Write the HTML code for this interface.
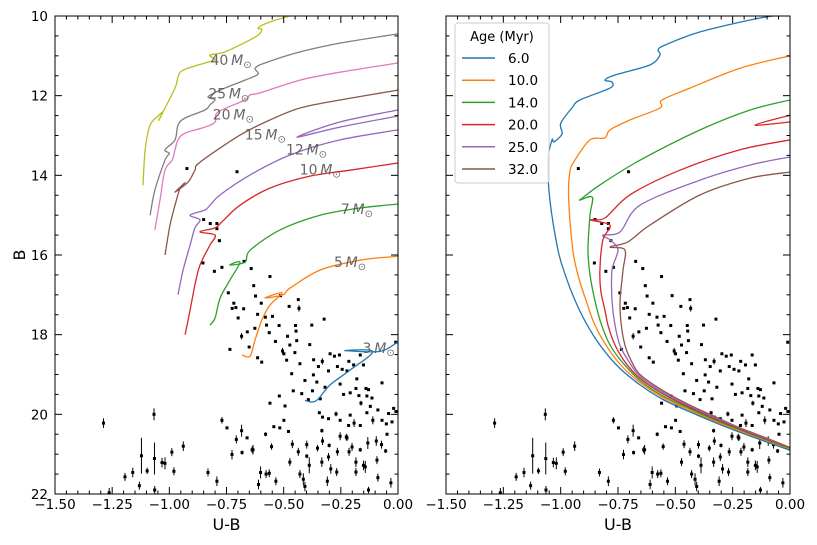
<!DOCTYPE html>
<html><head><meta charset="utf-8"><style>
html,body{margin:0;padding:0;background:#fff;}
svg{display:block;font-family:"DejaVu Sans","Liberation Sans",sans-serif;}
</style></head><body>
<svg id="fig" width="817" height="545" viewBox="0 0 817 545" xmlns="http://www.w3.org/2000/svg"></svg>
<script>
// ---- data ----
const xTicks=[-1.5,-1.25,-1.0,-0.75,-0.5,-0.25,0.0];
const xTickLabels=["\u22121.50","\u22121.25","\u22121.00","\u22120.75","\u22120.50","\u22120.25","0.00"];
const yTicks=[10,12,14,16,18,20,22];
const yTickLabels=["10","12","14","16","18","20","22"];
const starU=[-0.923,-0.704,-0.850,-0.821,-0.792,-0.792,-0.781,-0.853,-0.803,-0.770,-0.673,-0.642,-0.631,-0.560,-0.623,-0.742,-0.718,-0.725,-0.709,-0.675,-0.699,-0.598,-0.614,-0.580,-0.549,-0.575,-0.626,-0.659,-0.684,-0.563,-0.520,-0.514,-0.476,-0.436,-0.433,-0.448,-0.446,-0.483,-0.473,-0.536,-0.505,-0.499,-0.443,-0.377,-0.323,-0.386,-0.451,-0.429,-0.487,-0.614,-0.596,-0.651,-0.735,-0.369,-0.331,-0.348,-0.297,-0.256,-0.265,-0.304,-0.244,-0.223,-0.180,-0.165,-0.194,-0.151,-0.370,-0.355,-0.407,-0.465,-0.458,-0.421,-0.374,-0.392,-0.340,-0.319,-0.253,-0.238,-0.209,-0.184,-0.171,-0.140,-0.129,-0.114,-0.070,-0.162,-0.136,-0.121,-0.088,-0.041,-0.019,-0.009,-0.010,-0.278,-0.215,-0.519,-0.494,-0.560,-0.499,-0.543,-0.517,-0.479,-0.344,-0.330,-0.304,-0.271,-0.253,-0.209,-0.216,-0.192,-0.165,-0.136,-0.110,-0.070,-0.051,-0.026,-0.048,-0.770,-0.748,-0.707,-0.684,-0.660,-0.682,-0.726,-0.638,-0.579,-0.553,-0.462,-0.436,-0.399,-0.399,-0.352,-0.333,-0.330,-0.301,-0.333,-0.304,-0.265,-0.253,-0.223,-0.201,-0.165,-0.184,-0.151,-0.132,-0.095,-0.072,-0.054,-0.092,-0.226,-0.214,-0.473,-0.429,-0.388,-0.294,-0.268,-0.184,-0.143,-0.088,-0.031,-0.129,-0.309,-0.414,-0.407,-0.534,-0.563,-0.601,-0.577,-0.610,-0.792,-0.831,-0.634,-1.288,-1.067,-0.939,-0.989,-1.032,-1.019,-1.065,-1.122,-0.980,-1.097,-1.160,-1.194,-1.131,-1.064,-1.263];
const starB=[13.83,13.91,15.11,15.21,15.21,15.34,15.64,16.20,16.41,16.31,16.16,16.34,16.77,16.54,17.03,16.95,17.21,17.34,17.32,17.35,17.58,17.21,17.49,17.56,17.54,17.76,17.84,17.93,18.04,17.95,17.77,17.02,17.29,17.12,17.34,17.77,17.91,18.04,18.26,18.17,18.41,18.48,18.15,17.76,17.61,18.25,18.45,18.73,18.64,18.58,18.69,18.31,18.37,18.63,18.67,18.80,18.48,18.51,18.80,18.91,18.87,18.91,19.11,18.51,18.76,18.76,19.01,19.19,19.15,18.98,19.41,19.48,19.41,19.63,19.61,19.32,19.24,19.50,19.46,19.35,19.53,19.35,19.38,19.59,19.21,19.72,19.54,19.80,19.89,19.98,19.85,19.93,18.19,18.54,18.67,19.54,19.79,19.72,20.15,20.31,20.34,20.43,19.96,20.07,20.11,19.99,20.15,20.02,20.28,20.22,20.28,19.96,20.15,20.15,20.24,20.19,20.50,20.15,20.34,20.63,20.41,20.59,20.96,21.01,20.89,20.50,20.81,20.75,20.94,21.05,20.76,20.85,20.41,20.67,20.78,21.20,21.07,20.94,20.55,20.59,20.82,20.89,21.20,21.28,20.72,20.67,20.76,20.92,21.15,20.57,20.94,21.20,21.50,21.28,21.37,21.45,21.45,21.32,21.59,21.72,21.90,21.68,21.63,21.81,21.68,21.48,21.46,21.50,21.76,21.68,21.46,20.89,20.22,20.00,20.80,20.95,21.21,21.23,21.11,21.04,21.43,21.42,21.46,21.57,21.79,21.90,21.97];
const starErr=[0.02,0.02,0.02,0.02,0.02,0.02,0.02,0.02,0.02,0.02,0.03,0.02,0.02,0.02,0.02,0.02,0.02,0.02,0.02,0.02,0.02,0.02,0.02,0.02,0.02,0.03,0.02,0.02,0.08,0.02,0.02,0.02,0.02,0.02,0.08,0.02,0.02,0.02,0.02,0.02,0.08,0.03,0.02,0.02,0.02,0.02,0.02,0.02,0.02,0.02,0.02,0.02,0.02,0.02,0.08,0.02,0.02,0.02,0.02,0.02,0.03,0.02,0.02,0.02,0.02,0.02,0.02,0.03,0.02,0.02,0.02,0.02,0.02,0.03,0.02,0.02,0.03,0.02,0.03,0.03,0.03,0.03,0.02,0.03,0.03,0.06,0.03,0.03,0.03,0.03,0.03,0.03,0.03,0.03,0.03,0.03,0.03,0.03,0.03,0.03,0.03,0.03,0.03,0.03,0.03,0.06,0.03,0.03,0.03,0.1,0.03,0.03,0.1,0.03,0.03,0.03,0.03,0.08,0.03,0.1,0.15,0.03,0.05,0.12,0.08,0.05,0.08,0.1,0.1,0.05,0.1,0.08,0.05,0.1,0.05,0.12,0.1,0.1,0.1,0.08,0.1,0.05,0.12,0.12,0.15,0.12,0.1,0.05,0.1,0.08,0.1,0.1,0.1,0.2,0.12,0.1,0.1,0.15,0.1,0.12,0.08,0.12,0.15,0.12,0.1,0.1,0.15,0.1,0.12,0.12,0.1,0.12,0.12,0.15,0.12,0.1,0.12,0.15,0.4,0.45,0.1,0.08,0.12,0.1,0.1,0.1,0.12,0.12,0.12,0.12,0.12,0.12,0.12];

const massNames=["40","25","20","15","12","10","7","5","3"];
const massColors=["#bcbd22","#7f7f7f","#e377c2","#8c564b","#9467bd","#d62728","#2ca02c","#ff7f0e","#1f77b4"];
const track40U=[-1.115,-1.106,-1.084,-1.049,-1.028,-1.045,-0.975,-0.962,-0.940,-0.844,-0.800,-0.822,-0.756,-0.625,-0.595,-0.612,-0.560,-0.428];
const track40B=[14.25,13.37,12.74,12.51,12.41,12.6,11.81,11.53,11.36,11.18,11.10,10.98,10.90,10.53,10.35,10.30,10.15,9.92];
const track25U=[-1.084,-1.063,-1.019,-1.0,-1.019,-0.975,-0.962,-0.931,-0.844,-0.822,-0.800,-0.831,-0.778,-0.669,-0.612,-0.625,-0.582,-0.428,-0.254,0];
const track25B=[15.0,14.37,13.62,13.45,13.36,13.11,12.74,12.56,12.36,12.23,12.10,12.03,11.86,11.61,11.46,11.31,11.18,10.90,10.68,10.45];
const track20U=[-1.063,-1.041,-1.019,-0.988,-0.975,-0.962,-0.931,-0.844,-0.800,-0.787,-0.669,-0.647,-0.603,-0.428,-0.254,0];
const track20B=[15.37,14.62,13.87,13.62,13.36,13.11,12.94,12.79,12.66,12.41,12.11,11.98,11.93,11.61,11.41,11.18];
const track15U=[-1.019,-0.997,-0.975,-0.953,-0.931,-0.975,-0.918,-0.888,-0.866,-0.691,-0.560,-0.428,-0.254,0];
const track15B=[16.0,15.25,14.75,14.32,14.19,14.42,14.17,13.87,13.67,12.99,12.61,12.31,12.11,11.86];
const track12U=[-0.962,-0.940,-0.909,-0.888,-0.866,-0.909,-0.844,-0.822,-0.778,-0.647,-0.472,-0.254,0];
const track12B=[17.0,16.38,15.75,15.32,15.12,15.0,14.87,14.75,14.49,13.99,13.49,13.11,12.86];
const loop12U=[0,-0.254,-0.442,-0.254,0];
const loop12B=[12.36,12.66,13.04,12.79,12.51];
const track10U=[-0.931,-0.909,-0.888,-0.866,-0.822,-0.800,-0.866,-0.800,-0.770,-0.691,-0.560,-0.385,-0.210,0];
const track10B=[18.0,17.38,16.75,16.25,15.75,15.50,15.42,15.32,15.17,14.75,14.32,14.02,13.87,13.69];
const track7U=[-0.822,-0.800,-0.778,-0.735,-0.691,-0.735,-0.669,-0.647,-0.516,-0.341,-0.166,0];
const track7B=[17.76,17.58,17.08,16.63,16.18,16.25,16.18,15.88,15.37,15.0,14.82,14.72];
const track5U=[-0.682,-0.647,-0.625,-0.595,-0.560,-0.507,-0.582,-0.503,-0.472,-0.341,-0.166,0];
const track5B=[18.51,18.54,18.13,17.63,17.26,16.95,17.08,17.0,16.83,16.38,16.13,16.03];
const track3U=[-0.407,-0.376,-0.350,-0.297,-0.210,-0.110,-0.232,-0.079,0];
const track3B=[19.65,19.69,19.62,19.26,18.89,18.42,18.40,18.42,18.18];
const massLabelU=[-0.82,-0.83,-0.81,-0.67,-0.49,-0.43,-0.25,-0.28,-0.155];
const massLabelB=[11.1,11.95,12.47,12.98,13.35,13.85,14.85,16.18,18.34];

const ages=["6.0","10.0","14.0","20.0","25.0","32.0"];
const ageColors=["#1f77b4","#ff7f0e","#2ca02c","#d62728","#9467bd","#8c564b"];
const iso6U=[0,-0.1,-0.218,-0.33,-0.436,-0.55,-0.654,-0.75,-0.829,-0.89,-0.938,-0.98,-1.012,-1.047,-1.055,-1.038,-1.029,-0.994,-1.0,-0.951,-0.916,-0.785,-0.776,-0.807,-0.763,-0.611,-0.567,-0.575,-0.545,-0.392,-0.131,0];
const iso6B=[20.9,20.7,20.45,20.2,19.94,19.64,19.26,18.8,18.26,17.7,17.13,16.5,15.87,14.62,13.62,13.11,13.16,12.96,12.7,12.31,12.11,11.81,11.66,11.61,11.48,11.23,10.98,10.85,10.73,10.40,10.05,9.96];
const iso10U=[0,-0.1,-0.218,-0.33,-0.436,-0.55,-0.654,-0.74,-0.805,-0.855,-0.890,-0.925,-0.947,-0.965,-0.960,-0.938,-0.872,-0.807,-0.785,-0.698,-0.567,-0.558,-0.436,-0.218,0];
const iso10B=[20.88,20.68,20.42,20.17,19.9,19.59,19.2,18.75,18.24,17.7,17.13,16.5,15.87,14.62,13.92,13.62,13.11,13.06,12.86,12.61,12.31,12.11,11.81,11.31,11.0];
const iso14U=[0,-0.1,-0.218,-0.33,-0.436,-0.55,-0.654,-0.73,-0.785,-0.825,-0.851,-0.872,-0.881,-0.872,-0.862,-0.916,-0.905,-0.829,-0.654,-0.392,-0.174,0];
const iso14B=[20.86,20.66,20.40,20.14,19.86,19.55,19.15,18.7,18.26,17.7,17.13,16.5,15.87,15.0,14.55,14.62,14.57,14.24,13.62,12.86,12.36,12.11];
const iso20U=[0,-0.1,-0.218,-0.33,-0.436,-0.55,-0.654,-0.72,-0.763,-0.792,-0.807,-0.825,-0.829,-0.816,-0.785,-0.872,-0.807,-0.698,-0.480,-0.218,0];
const iso20B=[20.85,20.64,20.38,20.11,19.83,19.5,19.1,18.68,18.26,17.8,17.38,16.9,16.38,15.62,15.25,15.12,15.07,14.49,13.87,13.36,13.11];
const loop20U=[0,-0.153,0];
const loop20B=[12.49,12.74,12.66];
const iso25U=[0,-0.1,-0.218,-0.33,-0.436,-0.55,-0.654,-0.705,-0.742,-0.765,-0.776,-0.776,-0.750,-0.785,-0.816,-0.741,-0.654,-0.392,-0.174,0];
const iso25B=[20.84,20.62,20.36,20.08,19.8,19.46,19.05,18.65,18.26,17.7,17.13,16.38,15.87,15.62,15.50,15.42,14.75,14.12,13.74,13.54];
const iso32U=[0,-0.1,-0.218,-0.33,-0.436,-0.55,-0.654,-0.695,-0.720,-0.737,-0.741,-0.728,-0.720,-0.785,-0.707,-0.611,-0.392,-0.174,0];
const iso32B=[20.83,20.6,20.34,20.05,19.77,19.42,19.0,18.62,18.26,17.7,17.13,16.38,15.87,15.80,15.67,15.25,14.49,14.07,13.92];

// ---- drawing ----
const NS="http://www.w3.org/2000/svg";
const svg=document.getElementById('fig');
const Y0=16,Y1=494;
function yS(b){return Y0+(b-10)/12*(Y1-Y0);}
function mk(tag,attrs,parent){const e=document.createElementNS(NS,tag);for(const k in attrs)e.setAttribute(k,attrs[k]);(parent||svg).appendChild(e);return e;}
function smoothPath(P){
  if(P.length<3){return P.map((p,i)=>(i?'L':'M')+p[0].toFixed(1)+','+p[1].toFixed(1)).join('');}
  let d='M'+P[0][0].toFixed(1)+','+P[0][1].toFixed(1);
  const t=0.16;
  for(let i=0;i<P.length-1;i++){
    const p0=P[Math.max(0,i-1)],p1=P[i],p2=P[i+1],p3=P[Math.min(P.length-1,i+2)];
    const c1=[p1[0]+(p2[0]-p0[0])*t,p1[1]+(p2[1]-p0[1])*t];
    const c2=[p2[0]-(p3[0]-p1[0])*t,p2[1]-(p3[1]-p1[1])*t];
    d+='C'+c1[0].toFixed(1)+','+c1[1].toFixed(1)+' '+c2[0].toFixed(1)+','+c2[1].toFixed(1)+' '+p2[0].toFixed(1)+','+p2[1].toFixed(1);
  }
  return d;
}
function panel(idx,X0,X1){
  const xS=u=>X1+(u)/1.5*(X1-X0);
  const g=mk('g',{});
  
  
  const cid='clip'+idx;
  const cp=mk('clipPath',{id:cid},g);mk('rect',{x:X0,y:Y0,width:X1-X0,height:Y1-Y0},cp);
  const plot=mk('g',{'clip-path':'url(#'+cid+')'},g);
  const sg=mk('g',{},plot);
  
  
  for(let i=0;i<starU.length;i++){
    const x=xS(starU[i]),y=yS(starB[i]),e=starErr[i];
    if(e>0.03){const l=mk('line',{x1:x,x2:x,y1:yS(starB[i]-e),y2:yS(starB[i]+e),stroke:'#000','stroke-width':1},sg);
      
      }
    const c=mk('rect',{x:x-1.5,y:y-1.5,width:3,height:3,fill:'#000'},sg);
    
    
  }
  const line=(U,B,col,name)=>{const P=U.map((u,i)=>[xS(u),yS(B[i])]);
    const p=mk('path',{d:smoothPath(P),fill:'none',stroke:col,'stroke-width':1.3,'stroke-linejoin':'round'},plot);
    
    };
  if(idx===0){
    const TU=[track40U,track25U,track20U,track15U,track12U,track10U,track7U,track5U,track3U];
    const TB=[track40B,track25B,track20B,track15B,track12B,track10B,track7B,track5B,track3B];
    for(let i=0;i<TU.length;i++)line(TU[i],TB[i],massColors[i],'track-'+massNames[i]+'msun');
    line(loop12U,loop12B,massColors[4],'track-12msun-loop');
    for(let i=0;i<massNames.length;i++){
      const t=mk('text',{x:xS(massLabelU[i]),y:yS(massLabelB[i])+5,'font-size':14,fill:'#555','fill-opacity':0.9},g);
      
      
      t.innerHTML=massNames[i]+'<tspan font-style="italic">\u2009M</tspan><tspan font-size="10" dy="3">\u2299</tspan>';
    }
  } else {
    const IU=[iso6U,iso10U,iso14U,iso20U,iso25U,iso32U],IB=[iso6B,iso10B,iso14B,iso20B,iso25B,iso32B];
    for(let i=IU.length-1;i>=0;i--)line(IU[i],IB[i],ageColors[i],'isochrone-'+ages[i]);
    line(loop20U,loop20B,ageColors[3],'isochrone-20.0-loop');
  }
  const fr=mk('rect',{x:X0,y:Y0,width:X1-X0,height:Y1-Y0,fill:'none',stroke:'#000','stroke-width':1},g);
  
  
  for(let v=-1.5;v<=0.0001;v+=0.05){const x=xS(v),maj=Math.abs(v*4-Math.round(v*4))<1e-6,L=maj?7:3.5;
    mk('line',{x1:x,x2:x,y1:Y1,y2:Y1-L,stroke:'#000'},g);mk('line',{x1:x,x2:x,y1:Y0,y2:Y0+L,stroke:'#000'},g);}
  for(let b=10;b<=22.001;b+=0.5){const y=yS(b),maj=Math.abs(b/2-Math.round(b/2))<1e-6,L=maj?7:3.5;
    mk('line',{x1:X0,x2:X0+L,y1:y,y2:y,stroke:'#000'},g);mk('line',{x1:X1,x2:X1-L,y1:y,y2:y,stroke:'#000'},g);}
  for(let i=0;i<xTicks.length;i++){const t=mk('text',{x:xS(xTicks[i]),y:Y1+15,'font-size':13.5,'text-anchor':'middle'},g);
    
    
    t.textContent=xTickLabels[i];}
  if(idx===0){for(let i=0;i<yTicks.length;i++){const t=mk('text',{x:X0-7,y:yS(yTicks[i])+5,'font-size':13.5,'text-anchor':'end'},g);
    
    
    t.textContent=yTickLabels[i];}
    const yl=mk('text',{x:25,y:255,'font-size':16,'text-anchor':'middle',transform:'rotate(-90 25 255)'},g);
    
    
    yl.textContent='B';}
  const xl=mk('text',{x:(X0+X1)/2,y:530,'font-size':16,'text-anchor':'middle'},g);
  
  
  xl.textContent='U-B';
  if(idx===1){
    const lg=mk('g',{},g);
    
    
    mk('rect',{x:455,y:23,width:94,height:160,rx:3,fill:'#fff',stroke:'#ccc','fill-opacity':0.8},lg);
    const tt=mk('text',{x:502,y:41,'font-size':13,'text-anchor':'middle'},lg);tt.textContent='Age (Myr)';
    for(let i=0;i<ages.length;i++){const y=58+i*22.2;
      const ll=mk('line',{x1:462,x2:495,y1:y,y2:y,stroke:ageColors[i],'stroke-width':1.5},lg);
      
      
      const tx=mk('text',{x:508,y:y+5,'font-size':13.5},lg);
      
      
      tx.textContent=ages[i];}
  }
}
panel(0,55,398);
panel(1,446,790);
</script>
</body></html>
